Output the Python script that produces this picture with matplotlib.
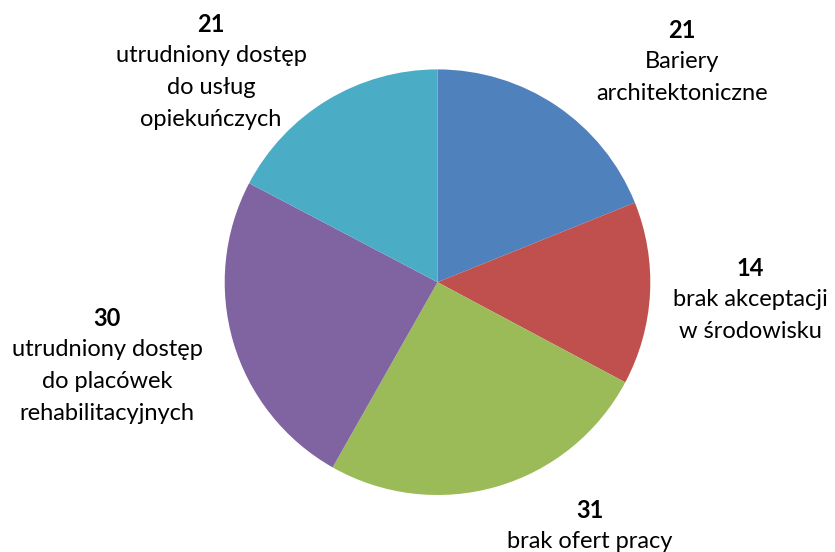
import matplotlib.pyplot as plt

# Data: labels show counts, slice sizes (% share)
values = [21, 14, 31, 30, 21]
shares = [18.9, 13.9, 25.4, 24.5, 17.3]
categories = ["Bariery\narchitektoniczne", "brak akceptacji\nw środowisku",
              "brak ofert pracy", "utrudniony dostęp\ndo placówek\nrehabilitacyjnych",
              "utrudniony dostęp\ndo usług\nopiekuńczych"]
colors = ["#4F81BD", "#C0504D", "#9BBB59", "#8064A2", "#4BACC6"]

# label anchor (pixel coords of the number, top-left origin)
label_pos = [(682, 30), (750, 268), (590, 510), (107, 318), (211, 24)]

W, H = 835, 552
fig = plt.figure(figsize=(W / 100, H / 100), dpi=100)
ax = fig.add_axes([0, 0, 1, 1])

ax.pie(shares, colors=colors, startangle=90, counterclock=False,
       center=(437.5, H - 282.2), radius=212.8, frame=True)
ax.set_xlim(0, W)
ax.set_ylim(0, H)
ax.set_aspect("equal")
ax.axis("off")

font = "Lato"
for v, cat, (x, y) in zip(values, categories, label_pos):
    ax.text(x, H - y, str(v), ha="center", va="center", fontsize=17,
            fontweight="bold", family=font)
    for i, line in enumerate(cat.split("\n")):
        ax.text(x, H - y - 32 * (i + 1), line, ha="center", va="center",
                fontsize=17, family=font)

fig.savefig("out.png", dpi=100)
